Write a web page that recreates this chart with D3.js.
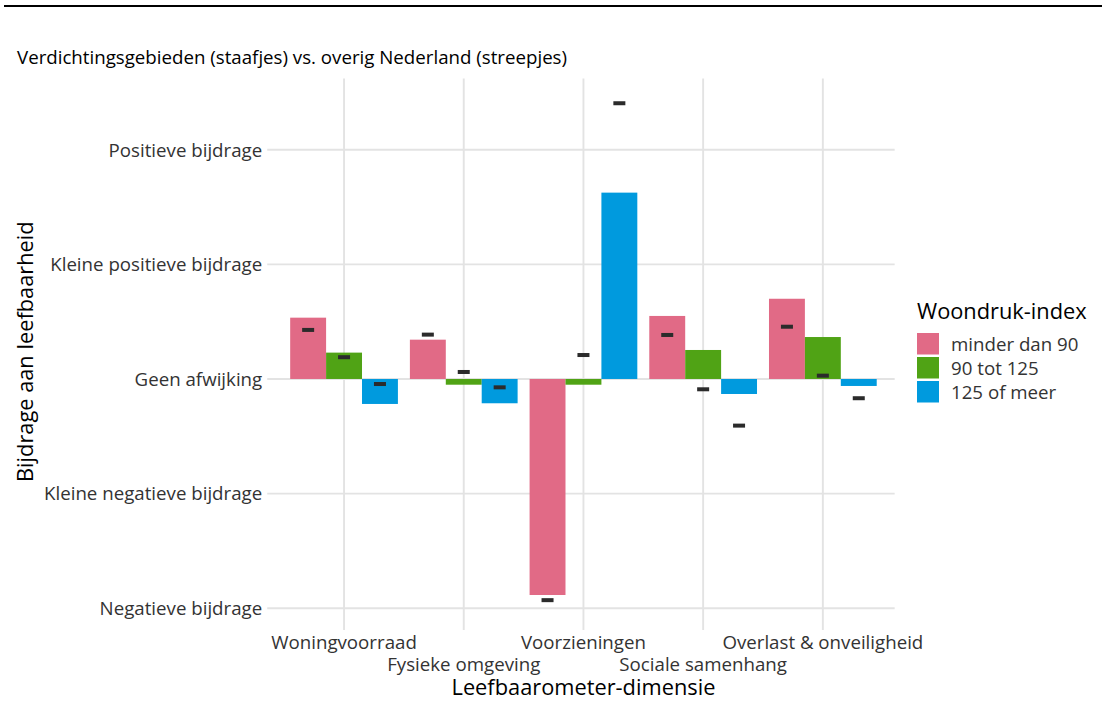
<!DOCTYPE html>
<html>
<head>
<meta charset="utf-8">
<script src="https://cdn.jsdelivr.net/npm/d3@7"></script>
<style>
  html, body { margin: 0; padding: 0; background: #fff; }
  svg { display: block; font-family: "Open Sans", "DejaVu Sans", sans-serif; }
</style>
</head>
<body>
<svg id="chart" width="1102" height="701"></svg>
<script>
// ---- data ----
const categories = ["Woningvoorraad", "Fysieke omgeving", "Voorzieningen", "Sociale samenhang", "Overlast & onveiligheid"];
const groups = ["minder dan 90", "90 tot 125", "125 of meer"];
const groupColors = ["#E16A86", "#50A315", "#009ADE"];
// bars: verdichtingsgebieden
const barMinder90 = [0.535, 0.343, -1.885, 0.55, 0.70];
const bar90tot125 = [0.23, -0.05, -0.05, 0.253, 0.366];
const bar125meer  = [-0.218, -0.212, 1.626, -0.131, -0.061];
// dashes: overig Nederland
const dashMinder90 = [0.428, 0.387, -1.93, 0.384, 0.456];
const dash90tot125 = [0.19, 0.061, 0.209, -0.09, 0.029];
const dash125meer  = [-0.044, -0.073, 2.406, -0.407, -0.168];
const yTickValues = [-2, -1, 0, 1, 2];
const yTickLabels = ["Negatieve bijdrage", "Kleine negatieve bijdrage", "Geen afwijking", "Kleine positieve bijdrage", "Positieve bijdrage"];

const barSeries = [barMinder90, bar90tot125, bar125meer];
const dashSeries = [dashMinder90, dash90tot125, dash125meer];

// ---- layout ----
const svg = d3.select("#chart");
svg.append("rect").attr("width", 1102).attr("height", 701).attr("fill", "#fff");

// top rule
svg.append("line").attr("x1", 4).attr("x2", 1102).attr("y1", 6).attr("y2", 6)
  .attr("stroke", "#000").attr("stroke-width", 2.2);

// x scale
const x = d3.scaleBand().domain(categories).range([284.2, 882.7]).paddingInner(0).paddingOuter(0);
const step = x.step();
const panelLeft = x(categories[0]) + step / 2 - 0.6 * step;
const panelRight = x(categories[categories.length - 1]) + step / 2 + 0.6 * step;

// y scale (ggplot-like 5% expansion)
const allVals = [0].concat(...barSeries, ...dashSeries);
const lo = d3.min(allVals), hi = d3.max(allVals);
const ex = (hi - lo) * 0.05;
const y = d3.scaleLinear().domain([lo - ex, hi + ex]).range([625, 78.4]);
const panelTop = y(hi + ex), panelBottom = y(lo - ex);

const gridColor = "#E3E3E3";
const tickFont = 18.7, titleFont = 21.8;

// horizontal gridlines + ticks
svg.append("g").selectAll("line").data(yTickValues).join("line")
  .attr("x1", panelLeft - 5).attr("x2", panelRight)
  .attr("y1", d => y(d)).attr("y2", d => y(d))
  .attr("stroke", gridColor).attr("stroke-width", 1.9);

// vertical gridlines + ticks
svg.append("g").selectAll("line").data(categories).join("line")
  .attr("x1", d => x(d) + step / 2).attr("x2", d => x(d) + step / 2)
  .attr("y1", panelTop).attr("y2", panelBottom + 5)
  .attr("stroke", gridColor).attr("stroke-width", 1.9);

// bars
const inner = d3.scaleBand().domain(groups).range([0, step * 0.9]);
const bw = inner.bandwidth();
const gOff = (step - step * 0.9) / 2;
groups.forEach((g, gi) => {
  svg.append("g").selectAll("rect").data(barSeries[gi]).join("rect")
    .attr("x", (d, i) => x(categories[i]) + gOff + inner(g))
    .attr("width", bw)
    .attr("y", d => Math.min(y(d), y(0)))
    .attr("height", d => Math.abs(y(d) - y(0)))
    .attr("fill", groupColors[gi]);
});
// dashes
groups.forEach((g, gi) => {
  svg.append("g").selectAll("rect").data(dashSeries[gi]).join("rect")
    .attr("x", (d, i) => x(categories[i]) + gOff + inner(g) + bw / 2 - 6)
    .attr("width", 12)
    .attr("y", d => y(d) - 2)
    .attr("height", 4)
    .attr("fill", "#2B2B2B");
});

// y tick labels
svg.append("g").selectAll("text").data(yTickValues).join("text")
  .attr("x", panelLeft - 10).attr("y", d => y(d))
  .attr("dy", "0.36em")
  .attr("text-anchor", "end")
  .attr("font-size", tickFont).attr("fill", "#333")
  .text((d, i) => yTickLabels[i]);

// x tick labels (alternating rows)
svg.append("g").selectAll("text").data(categories).join("text")
  .attr("x", d => x(d) + step / 2)
  .attr("y", (d, i) => i % 2 === 0 ? 649 : 671)
  .attr("text-anchor", "middle")
  .attr("font-size", tickFont).attr("fill", "#333")
  .text(d => d);

// axis titles
svg.append("text").attr("x", (panelLeft + panelRight) / 2).attr("y", 695)
  .attr("text-anchor", "middle").attr("font-size", titleFont).attr("fill", "#000")
  .text("Leefbaarometer-dimensie");
svg.append("text")
  .attr("transform", `translate(33, ${(panelTop + panelBottom) / 2}) rotate(-90)`)
  .attr("text-anchor", "middle").attr("font-size", titleFont).attr("fill", "#000")
  .text("Bijdrage aan leefbaarheid");

// title
svg.append("text").attr("x", 17).attr("y", 64)
  .attr("font-size", tickFont).attr("fill", "#000")
  .text("Verdichtingsgebieden (staafjes) vs. overig Nederland (streepjes)");

// legend
const leg = svg.append("g");
leg.append("text").attr("x", 917).attr("y", 319).attr("font-size", titleFont).attr("fill", "#000")
  .text("Woondruk-index");
const legItems = leg.selectAll("g.item").data(groups).join("g").attr("class", "item")
  .attr("transform", (d, i) => `translate(917, ${333 + i * 24})`);
legItems.append("rect").attr("width", 22).attr("height", 21.5)
  .attr("fill", (d, i) => groupColors[i]);
legItems.append("text").attr("x", 34).attr("y", 10.8).attr("dy", "0.36em")
  .attr("font-size", tickFont).attr("fill", "#333")
  .text(d => d);
</script>
</body>
</html>
